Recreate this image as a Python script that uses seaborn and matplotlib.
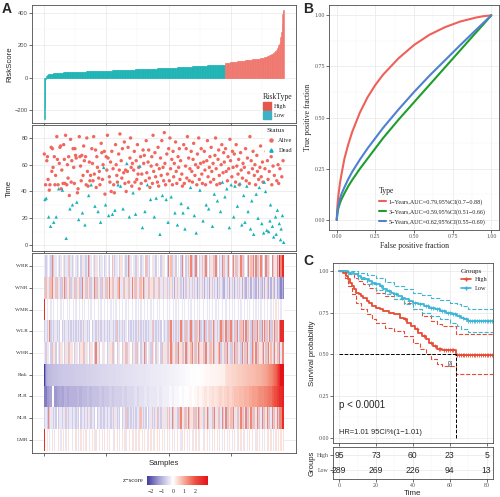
import numpy as np
import pandas as pd
import matplotlib
matplotlib.use("Agg")
import matplotlib.pyplot as plt
import seaborn as sns
from matplotlib.colors import LinearSegmentedColormap
from matplotlib.lines import Line2D
from matplotlib.patches import Patch

# ---------------- data: panel A ----------------
# sorted risk score per sample (low group then high group)
risk_low = [
    -255, -182, -8, 12, 17, 20, 22,
    23, 24, 25, 25, 26, 27, 27, 28, 28, 29, 29, 30, 30, 30, 31, 31, 32, 32, 32, 33, 33,
    33, 33, 33, 34, 34, 34, 34, 34, 34, 35, 35, 35, 35, 35, 35, 36, 36, 36, 36, 36, 36,
    37, 37, 37, 37, 37, 37, 38, 38, 38, 38, 38, 38, 39, 39, 39, 39, 39, 39, 40, 40, 40,
    40, 40, 40, 41, 41, 41, 41, 41, 41, 42, 42, 42, 42, 42, 42, 43, 43, 43, 43, 43, 43,
    44, 44, 44, 44, 44, 44, 45, 45, 45, 45, 45, 45, 46, 46, 46, 46, 46, 46,
    47, 47, 47, 47, 47, 47, 48, 48, 48, 48, 48, 48, 49, 49, 49, 49, 49, 49,
    50, 50, 50, 50, 50, 50, 51, 51, 51, 51, 51, 51, 52, 52, 52, 52, 52, 52,
    53, 53, 53, 53, 53, 53, 54, 54, 54, 54, 54, 54, 55, 55, 55, 55, 55, 55,
    56, 56, 56, 56, 56, 56, 57, 57, 57, 57, 57, 57, 58, 58, 58, 58, 58, 58,
    59, 59, 59, 59, 59, 59, 60, 60, 60, 60, 60, 60, 60, 60, 60, 60,
    61, 61, 61, 61, 62, 62, 62, 62, 63, 63, 63, 63, 64, 64, 64, 64, 65, 65, 65, 65, 66, 66, 66, 66,
    67, 67, 67, 67, 68, 68, 68, 68, 69, 69, 69, 69, 70, 70, 70, 70, 71, 71, 71, 71, 72, 72, 72, 72,
    73, 73, 73, 73, 74, 74, 74, 74, 75, 75, 75, 75, 76, 76, 76, 76, 77, 77, 77, 77, 78, 78, 78, 78,
    79, 79, 79, 79, 80, 80, 80, 80, 81, 81, 81, 81, 82, 82, 82, 82, 82, 82, 82, 82,
]
risk_high = [
    92, 92, 93, 93, 94, 94, 95, 95, 96, 96, 97, 97, 98, 98, 99, 99, 100, 100, 101, 101,
    102, 102, 103, 103, 104, 104, 105, 105, 106, 106, 107, 107, 108, 108, 109,
    109, 110, 110, 111, 111, 112, 112, 113, 113, 114, 114, 115, 115, 116, 116, 117, 117, 118, 118, 119, 119,
    120, 121, 122, 123, 124, 125, 126, 127, 128, 129, 130, 132, 134, 136, 138, 140,
    142, 144, 146, 148, 150, 153, 156, 159, 162, 166, 170,
    175, 182, 190, 200, 212, 228, 252, 280, 330, 395, 410, 418,
]

# survival time per sample and status (A = alive, D = dead), same order
surv_time = [
    [68, 34, 45, 35, 63, 66, 49, 21, 41, 45, 14, 73, 55, 72, 58, 17, 66, 45, 52, 21, 81, 64, 45, 42, 61, 73, 74, 42, 56, 41, 46, 75],
    [64, 46, 82, 5, 45, 60, 50, 66, 37, 27, 79, 47, 63, 30, 72, 58, 46, 72, 67, 65, 32, 39, 42, 19, 81, 66, 59, 48, 67, 24, 52, 74],
    [63, 15, 66, 45, 80, 55, 44, 37, 62, 48, 52, 45, 72, 61, 48, 81, 53, 29, 71, 43, 66, 58, 25, 50, 55, 45, 17, 76, 69, 49, 60, 58],
    [70, 38, 30, 66, 56, 82, 65, 22, 51, 47, 62, 40, 70, 23, 57, 45, 39, 26, 75, 60, 52, 47, 45, 68, 56, 83, 44, 63, 50, 72, 27, 54],
    [77, 46, 56, 40, 61, 55, 73, 47, 21, 65, 80, 58, 44, 61, 39, 56, 70, 47, 23, 63, 49, 75, 53, 58, 42, 59, 66, 46, 53, 13, 71, 61],
    [67, 25, 48, 78, 54, 45, 62, 71, 50, 43, 34, 59, 66, 46, 82, 55, 21, 69, 51, 35, 60, 47, 73, 44, 57, 8, 65, 52, 78, 37, 58, 48],
    [84, 61, 45, 34, 68, 53, 17, 72, 48, 80, 57, 36, 64, 45, 70, 51, 61, 24, 77, 55, 46, 15, 66, 58, 72, 49, 63, 31, 53, 44, 24, 75],
    [46, 12, 59, 72, 50, 81, 28, 65, 48, 57, 43, 70, 55, 47, 64, 76, 22, 52, 60, 9, 45, 68, 58, 80, 49, 41, 61, 72, 53, 46, 18, 62],
    [70, 56, 45, 30, 63, 78, 51, 27, 58, 66, 47, 73, 55, 14, 61, 49, 38, 67, 80, 57, 45, 33, 64, 71, 52, 46, 25, 60, 75, 47, 54, 69],
    [62, 36, 72, 55, 42, 48, 66, 57, 13, 79, 63, 45, 51, 70, 58, 21, 68, 44, 47, 75, 59, 29, 53, 64, 45, 46, 69, 56, 15, 50, 61, 37],
    [58, 17, 72, 48, 44, 65, 25, 54, 46, 81, 12, 63, 33, 57, 70, 8, 52, 60, 45, 38, 67, 55, 20, 49, 43, 58, 74, 51, 16, 62, 47, 9],
    [47, 57, 40, 70, 11, 63, 49, 10, 55, 18, 30, 66, 45, 14, 59, 6, 52, 72, 21, 8, 48, 26, 60, 46, 16, 57, 4, 12, 51, 22, 63, 2],
]
surv_status = [
    "ADADAAADAADAAAADAAADAAADAAAAADAA",
    "AAADAAAAADAAADAAAAAADAADAAAAADAA",
    "ADAAAAADAAADAAAAADAAAADAAADAAAAD",
    "AADAAAADAAAAADAAADAAAADAAADAAADA",
    "AAAADAAADAAAAADAAADAAAAAADAAADAA",
    "ADAAADAAAADAAAAADAADAAAAADAAADAA",
    "AAADAADAAAADAAAAADAAADAAAAADAADA",
    "ADAAAADAAADAAAAADAADAAAAADAAAADA",
    "AAADAAADAAAAADAADAAAADAAAADAADAA",
    "ADAADAAADAADAAADADAAADAAADAADAAD",
    "ADAADADAAADADAADAAADAADADAAADAAD",
    "DADADAADADDAADADAADDADAADADDADAD",
]

# heatmap rows: each character is one stripe of 2 samples, digit -> z level
heat_rows = ["WRR", "WNR", "WMR", "WLR", "WHR", "Risk", "PLR", "NLR", "LMR"]
z_levels = [-2.3, -1.5, -1.0, -0.65, -0.3, 0.0, 0.35, 0.8, 1.4, 2.6]
heat_codes = {
    "WRR": ("434543834454345634437434" "543453464348345436453445" "345435743445364543483454" "436453445734354643545364"
            "453847346354538453474834" "384534743845364738453483" "743845384736483745384738" "483748354837458364839899"),
    "WNR": ("374637846374637483647364" "736473846374736483746374" "637486374637846374637486" "374637483647364736437463"
            "463436342634634263463436" "342634362436243634263432" "243624362436342632436243" "324263242632426324232121"),
    "WMR": ("954554545545545455454554" "545545454554545545545455" "454554545455454554545545" "545454554545545455454554"
            "554545545454554545545455" "454545545545454554545545" "545545454554545545454554" "545454554545545456545455"),
    "WLR": ("343483434434353434434343" "434343634434353443436344" "343434434374343434534343" "434363434343443743434354"
            "343738434363483437343834" "373483438343734836343873" "483738347384373848374383" "738473848374837483748999"),
    "WHR": ("436453746354364536473645" "364536473645364538463546" "453646374536453647364536" "637453648354637453645374"
            "463748364738463748364784" "374836473846374836478364" "738463748374638473846387" "483746384738476384738488"),
    "NLR": ("343834434353443463434434" "434353443434634435344343" "343443634434353443734343" "434637434353443634734346"
            "463474836437384637483647" "374836437483647384637483" "483747384637483748374837" "748374837483748374838899"),
    "LMR": ("956545654556545654565545" "565456545655456546554565" "654565546565456564556546" "565465656546565465656565"
            "456545654565546565456546" "565465546565456545656545" "654565456546565465456565" "546565456546565456565656"),
}
# PLR z-score, one value per 4 samples
plr_z = [
    -1.6, -1.3, -1.2, 0.0, -1.3, -1.2, -1.1, -1.2, -1.0, -1.1, -1.0, -1.0,
    -1.0, -0.9, -1.0, -0.9, -0.9, -0.8, -0.9, -0.8, -0.8, -0.8, -0.7, -0.8,
    -0.7, -0.7, -0.6, -0.7, -0.6, -0.6, -0.6, -0.5, -0.6, -0.5, -0.5, -0.5,
    -0.4, -0.5, -0.4, -0.4, -0.3, -0.4, -0.3, -0.3, -0.3, -0.2, -0.3, -0.2,
    -0.2, -0.2, -0.1, -0.2, -0.1, -0.1, 0.0, -0.1, 0.0, 0.0, 0.1, 0.0,
    0.1, 0.2, 0.1, 0.2, 0.3, 0.2, 0.3, 0.4, 0.3, 0.4, 0.5, 0.4,
    0.5, 0.6, 0.5, 0.6, 0.7, 0.7, 0.8, 0.8, 0.9, 0.9, 1.0, 1.1,
    1.1, 1.2, 1.3, 1.3, 1.4, 1.5, 1.6, 1.8, 2.0, 2.3, 2.6, 2.8,
]

# ---------------- data: panel B (ROC) ----------------
roc_fpr = [0, 0.005, 0.01, 0.02, 0.03, 0.05, 0.075, 0.1, 0.15, 0.2, 0.25, 0.3, 0.4, 0.5, 0.6, 0.7, 0.8, 0.9, 0.95, 1.0]
tpr_1y = [0, 0.075, 0.115, 0.175, 0.22, 0.30, 0.37, 0.43, 0.525, 0.60, 0.66, 0.71, 0.79, 0.855, 0.905, 0.942, 0.970, 0.989, 0.996, 1.0]
tpr_3y = [0, 0.035, 0.055, 0.08, 0.10, 0.13, 0.165, 0.195, 0.25, 0.30, 0.35, 0.40, 0.49, 0.575, 0.66, 0.745, 0.83, 0.915, 0.957, 1.0]
tpr_5y = [0, 0.045, 0.07, 0.10, 0.125, 0.16, 0.20, 0.235, 0.295, 0.35, 0.40, 0.45, 0.54, 0.625, 0.705, 0.78, 0.855, 0.928, 0.964, 1.0]
roc_labels = ["1\u2212Years,AUC=0.79,95%CI(0.7\u22120.88)",
              "3\u2212Years,AUC=0.59,95%CI(0.51\u22120.66)",
              "5\u2212Years,AUC=0.62,95%CI(0.55\u22120.69)"]

# ---------------- data: panel C (KM) ----------------
km_high_t = [0, 2, 4, 5, 6, 7, 8, 9, 11, 12, 13, 15, 16, 18, 20, 22, 24, 27, 30, 33,
             35, 37, 39, 41, 43, 45, 47, 49, 51, 53, 56, 63.3, 83.3]
km_high_s = [1.0, 0.99, 0.97, 0.95, 0.93, 0.91, 0.89, 0.87, 0.86, 0.85, 0.84, 0.82, 0.81, 0.79, 0.78, 0.77, 0.76, 0.75, 0.74, 0.72,
             0.71, 0.69, 0.67, 0.65, 0.63, 0.61, 0.59, 0.57, 0.55, 0.535, 0.525, 0.495, 0.495]
km_low_t = [0, 3, 5, 8, 10, 12, 14, 16, 18, 20, 22, 24, 26, 28, 30, 32, 34, 36, 38, 40,
            43, 46, 49, 52, 55, 58, 61, 64, 66, 68, 70, 83.3]
km_low_s = [1.0, 0.997, 0.99, 0.98, 0.97, 0.96, 0.95, 0.94, 0.93, 0.92, 0.91, 0.89, 0.88, 0.87, 0.86, 0.85, 0.84, 0.83, 0.82, 0.81,
            0.80, 0.79, 0.78, 0.77, 0.76, 0.75, 0.74, 0.73, 0.72, 0.71, 0.70, 0.70]
ci_high_up_t = [0, 4, 6, 8, 10, 13, 16, 20, 25, 30, 35, 40, 45, 50, 53, 56, 63.3, 83.3]
ci_high_up_s = [1.0, 0.995, 0.98, 0.96, 0.94, 0.92, 0.90, 0.87, 0.85, 0.83, 0.81, 0.77, 0.73, 0.70, 0.68, 0.67, 0.625, 0.625]
ci_high_lo_t = [0, 3, 5, 7, 9, 12, 15, 18, 20, 25, 30, 35, 40, 44, 47, 50, 53, 56, 63.3, 83.3]
ci_high_lo_s = [1.0, 0.96, 0.91, 0.86, 0.81, 0.77, 0.74, 0.71, 0.69, 0.66, 0.64, 0.61, 0.57, 0.53, 0.50, 0.47, 0.44, 0.43, 0.385, 0.385]
ci_low_up_t = [0, 10, 15, 20, 25, 30, 35, 40, 45, 50, 55, 60, 64, 66, 70, 83.3]
ci_low_up_s = [1.0, 0.99, 0.975, 0.955, 0.935, 0.91, 0.89, 0.87, 0.855, 0.84, 0.825, 0.81, 0.80, 0.79, 0.77, 0.77]
ci_low_lo_t = [0, 5, 10, 15, 20, 25, 30, 35, 40, 45, 50, 55, 60, 64, 66, 70, 83.3]
ci_low_lo_s = [1.0, 0.98, 0.95, 0.92, 0.885, 0.86, 0.83, 0.80, 0.77, 0.75, 0.73, 0.71, 0.69, 0.67, 0.655, 0.635, 0.635]
cens_high = [36, 42, 46, 50, 52, 54, 55, 57, 58, 59, 60, 61, 62, 64, 65, 66, 67, 68, 69, 70,
             71, 72, 73, 74, 75, 76, 77, 78, 79, 80, 81, 82, 83]
cens_low = [18, 23, 27, 31, 34, 38, 41, 44, 47, 48, 50, 51, 53, 54, 56, 57, 59, 60, 62, 63,
            65, 67, 69, 70, 71, 72, 73, 74, 75, 76, 77, 78, 79, 80, 81, 82, 83]
median_time = 63.5
table_times = [0, 20, 40, 60, 80]
table_high = [95, 73, 60, 23, 5]
table_low = [289, 269, 226, 94, 13]

# ---------------- styling ----------------
sns.set_theme(style="whitegrid")
plt.rcParams["font.family"] = ["Liberation Sans", "DejaVu Sans"]
SERIF = ["Liberation Serif", "DejaVu Serif"]
GRID = "#EBEBEB"
EDGE = "#4D4D4D"
c_low, c_high = "#1DB3B5", "#EF776E"
c_alive, c_dead = "#F2665E", "#16B2B9"
roc_colors = ["#EE6159", "#1E9E2A", "#4F80D1"]
km_red, km_blue = "#E64B35", "#3DB5D4"


def frame(ax, xmaj, xmin, ymaj, ymin, lab_size=4.2, serif=False, xlabels=True):
    ax.set_facecolor("white")
    ax.set_xticks(xmaj)
    ax.set_xticks(xmin, minor=True)
    ax.set_yticks(ymaj)
    ax.set_yticks(ymin, minor=True)
    ax.grid(which="major", color=GRID, lw=0.6)
    ax.grid(which="minor", color="#F3F3F3", lw=0.35)
    ax.set_axisbelow(True)
    ax.tick_params(which="major", bottom=True, left=True, length=2, width=0.5, color="#333333",
                   labelsize=lab_size, pad=1, labelcolor="#4D4D4D")
    ax.tick_params(which="minor", length=0)
    if not xlabels:
        ax.set_xticklabels([])
    for s in ax.spines.values():
        s.set_visible(True)
        s.set_color(EDGE)
        s.set_linewidth(0.6)
    if serif:
        for lbl in ax.get_xticklabels() + ax.get_yticklabels():
            lbl.set_fontfamily(SERIF)


fig = plt.figure(figsize=(5.0, 4.97), dpi=100)

# ---- A1: risk score bars ----
ax1 = fig.add_axes([0.064, 0.7525, 0.528, 0.2374])
risk = risk_low + risk_high
n = len(risk)
df_risk = pd.DataFrame({"sample": np.arange(1, n + 1), "score": risk,
                        "RiskType": ["Low"] * len(risk_low) + ["High"] * len(risk_high)})
sns.barplot(data=df_risk, x="sample", y="score", hue="RiskType", palette={"High": c_high, "Low": c_low},
            native_scale=True, width=1, dodge=False, saturation=1, errorbar=None, legend=False,
            linewidth=0, ax=ax1)
for p in ax1.patches:
    p.set_edgecolor(p.get_facecolor())
    p.set_linewidth(0.4)
xlim_a = (-18.7, 403.7)
frame(ax1, [0, 100, 200, 300], [50, 150, 250, 350], [-200, 0, 200, 400], [-100, 100, 300], xlabels=False)
ax1.set_xlim(*xlim_a)
ax1.set_ylim(-277, 449)
ax1.set_xlabel("")
ax1.set_ylabel("RiskScore", fontsize=5.6, labelpad=2)
ax1.yaxis.set_label_coords(-0.072, 0.5)
ax1.legend(handles=[Patch(facecolor="#E4574A", edgecolor="#E4574A"),
                    Patch(facecolor="#3DB2C6", edgecolor="#3DB2C6")],
           labels=["High", "Low"], title="RiskType", loc="lower right", bbox_to_anchor=(1.0, 0.0),
           frameon=True, facecolor="white", edgecolor="none", framealpha=1,
           prop={"family": SERIF, "size": 4.6}, title_fontproperties={"family": SERIF, "size": 5.6},
           handlelength=1.3, handleheight=1.6, handletextpad=0.5, borderpad=0.3, labelspacing=0.1,
           borderaxespad=0.3, alignment="left")

# ---- A2: survival time scatter ----
ax2 = fig.add_axes([0.064, 0.495, 0.528, 0.2535])
t_all = [t for row in surv_time for t in row]
st_all = "".join(surv_status)
df_sc = pd.DataFrame({"sample": np.arange(1, len(t_all) + 1), "time": t_all,
                      "Status": ["Alive" if c == "A" else "Dead" for c in st_all]})
sns.scatterplot(data=df_sc, x="sample", y="time", hue="Status", style="Status",
                markers={"Alive": "o", "Dead": "^"}, palette={"Alive": c_alive, "Dead": c_dead},
                s=6, linewidth=0, legend=False, ax=ax2)
frame(ax2, [0, 100, 200, 300], [50, 150, 250, 350], [0, 20, 40, 60, 80], [10, 30, 50, 70], xlabels=False)
ax2.set_xlim(*xlim_a)
ax2.set_ylim(-4.5, 89.7)
ax2.set_xlabel("")
ax2.set_ylabel("Time", fontsize=5.6)
ax2.yaxis.set_label_coords(-0.072, 0.5)
ax2.legend(handles=[Line2D([], [], ls="", marker="o", ms=2.2, color=c_alive),
                    Line2D([], [], ls="", marker="^", ms=2.4, color=c_dead)],
           labels=["Alive", "Dead"], title="Status", loc="upper right", bbox_to_anchor=(1.0, 1.0),
           frameon=True, facecolor="white", edgecolor="none", framealpha=1,
           prop={"family": SERIF, "size": 4.6}, title_fontproperties={"family": SERIF, "size": 5.4},
           handlelength=1.2, handletextpad=0.6, borderpad=0.3, labelspacing=0.7, borderaxespad=0.2,
           alignment="left")

# ---- A3: heatmap ----
ax3 = fig.add_axes([0.064, 0.0885, 0.528, 0.4024])
cax = fig.add_axes([0.294, 0.024, 0.122, 0.019])
risk_arr = np.array(risk, dtype=float)
risk_z = np.clip((risk_arr - risk_arr.mean()) / risk_arr.std(), -2.3, 3.1)


def fit_len(row):
    row = np.asarray(row, dtype=float)
    if len(row) < n:
        row = np.pad(row, (0, n - len(row)), mode="edge")
    return row[:n]


mat = []
for name in heat_rows:
    if name == "Risk":
        row = risk_z
    elif name == "PLR":
        row = np.repeat(plr_z, 4)
    else:
        row = np.repeat([z_levels[int(c)] for c in heat_codes[name]], 2)
    mat.append(fit_len(row))
mat = np.vstack(mat)
cmap = LinearSegmentedColormap.from_list(
    "zs", [(0.0, "#3F3C9E"), (1.1 / 5.4, "#A9A2D4"), (2.3 / 5.4, "#FFFFFF"),
           (3.3 / 5.4, "#F6A996"), (4.3 / 5.4, "#EC4D3E"), (1.0, "#E5121A")])
sns.heatmap(mat, ax=ax3, cmap=cmap, vmin=-2.3, vmax=3.1, cbar_ax=cax,
            cbar_kws={"orientation": "horizontal", "ticks": [-2, -1, 0, 1, 2]},
            xticklabels=False, yticklabels=heat_rows, rasterized=True)
ax3.set_facecolor("white")
ax3.set_xlim(-19.2, 403.2)
ax3.set_ylim(9.1, -0.1)
ax3.set_xticks([-0.5, 99.5, 199.5, 299.5])
ax3.set_xticklabels([])
ax3.grid(axis="y", color=GRID, lw=0.6)
ax3.grid(axis="x", visible=False)
ax3.set_axisbelow(True)
ax3.tick_params(bottom=True, left=True, length=2, width=0.5, color="#333333", labelsize=3.8, pad=1,
                labelcolor="#333333")
for lbl in ax3.get_yticklabels():
    lbl.set_fontfamily(SERIF)
    lbl.set_rotation(0)
for s in ax3.spines.values():
    s.set_visible(True)
    s.set_color(EDGE)
    s.set_linewidth(0.6)
ax3.set_xlabel("Samples", fontsize=5.6, labelpad=2)
ax3.set_ylabel("")
cb = ax3.collections[0].colorbar
cb.outline.set_visible(False)
cax.tick_params(labelsize=4.2, length=2, width=0.4, color="white", pad=1, bottom=True)
for lbl in cax.get_xticklabels():
    lbl.set_fontfamily(SERIF)
fig.text(0.288, 0.0335, "z\u2212score", ha="right", va="center", fontsize=4.8, family=SERIF)

# ---- B: ROC ----
axB = fig.add_axes([0.658, 0.537, 0.34, 0.4527])
df_roc = pd.concat([pd.DataFrame({"fpr": roc_fpr, "tpr": tp, "Type": lab})
                    for tp, lab in zip([tpr_1y, tpr_3y, tpr_5y], roc_labels)])
sns.lineplot(data=df_roc, x="fpr", y="tpr", hue="Type", palette=dict(zip(roc_labels, roc_colors)),
             sort=False, estimator=None, linewidth=1.5, legend=False, ax=axB)
frame(axB, [0, 0.25, 0.5, 0.75, 1.0], [0.125, 0.375, 0.625, 0.875],
      [0, 0.25, 0.5, 0.75, 1.0], [0.125, 0.375, 0.625, 0.875], serif=True)
axB.set_xticklabels(["0.00", "0.25", "0.50", "0.75", "1.00"], fontfamily=SERIF)
axB.set_yticklabels(["0.00", "0.25", "0.50", "0.75", "1.00"], fontfamily=SERIF)
axB.set_xlim(-0.05, 1.05)
axB.set_ylim(-0.05, 1.05)
axB.set_xlabel("False positive fraction", fontsize=5.6, family=SERIF, labelpad=2)
axB.set_ylabel("True positive fraction", fontsize=5.6, family=SERIF, labelpad=2)
axB.legend(handles=[Line2D([], [], color=c, lw=1.5) for c in roc_colors], labels=roc_labels,
           title="Type", loc="lower left", bbox_to_anchor=(0.27, 0.005), frameon=False,
           prop={"family": SERIF, "size": 4.4}, title_fontproperties={"family": SERIF, "size": 5.6},
           handlelength=1.1, handletextpad=0.4, labelspacing=0.7, borderpad=0.2, alignment="left")

# ---- C: Kaplan-Meier ----
axC = fig.add_axes([0.666, 0.1087, 0.32, 0.3622])
xlim_c = (-3.3, 83.5)
for t, s_, col, ls, lw in [
    (ci_high_up_t, ci_high_up_s, km_red, "--", 0.8), (ci_high_lo_t, ci_high_lo_s, km_red, "--", 0.8),
    (ci_low_up_t, ci_low_up_s, km_blue, "--", 0.8), (ci_low_lo_t, ci_low_lo_s, km_blue, "--", 0.8),
    (km_high_t, km_high_s, km_red, "-", 1.3), (km_low_t, km_low_s, km_blue, "-", 1.3)]:
    sns.lineplot(x=t, y=s_, color=col, linestyle=ls, linewidth=lw, drawstyle="steps-post",
                 estimator=None, ax=axC)


def step_at(times, surv, q):
    idx = np.searchsorted(times, q, side="right") - 1
    return np.asarray(surv)[idx]


axC.plot(cens_high, step_at(km_high_t, km_high_s, cens_high), ls="", marker="+", ms=3, mew=0.6, color=km_red)
axC.plot(cens_low, step_at(km_low_t, km_low_s, cens_low), ls="", marker="+", ms=3, mew=0.6, color=km_blue)
axC.plot([0, median_time], [0.5, 0.5], ls="--", color="black", lw=0.7)
axC.plot([median_time, median_time], [0, 0.5], ls="--", color="black", lw=0.7)
axC.text(median_time - 1.2, 0.45, "63", rotation=90, ha="right", va="center", fontsize=4.6, color="#333333")
axC.text(0, 0.2, "p < 0.0001", fontsize=7, ha="left", va="center")
axC.text(0, 0.035, "HR=1.01 95CI%(1\u22121.01)", fontsize=5.4, ha="left", va="center")
frame(axC, [0, 20, 40, 60, 80], [10, 30, 50, 70], [0, 0.25, 0.5, 0.75, 1.0], [0.125, 0.375, 0.625, 0.875],
      xlabels=False)
axC.set_yticklabels(["0.00", "0.25", "0.50", "0.75", "1.00"], fontfamily=SERIF)
axC.set_xlim(*xlim_c)
axC.set_ylim(-0.03, 1.048)
axC.set_xlabel("")
axC.set_ylabel("Survival probability", fontsize=5.6, labelpad=2)
axC.legend(handles=[Line2D([], [], color=km_red, lw=1.2, marker="+", ms=3),
                    Line2D([], [], color=km_blue, lw=1.2, marker="+", ms=3)],
           labels=["High", "Low"], title="Groups", loc="upper right", bbox_to_anchor=(1.0, 1.0),
           frameon=False, prop={"family": SERIF, "size": 4.6},
           title_fontproperties={"family": SERIF, "size": 5.2}, handlelength=1.6, handletextpad=0.5,
           labelspacing=0.5, alignment="left")

# ---- C: risk table ----
axT = fig.add_axes([0.666, 0.0362, 0.32, 0.0644])
for x, hv, lv in zip(table_times, table_high, table_low):
    axT.text(x, 24, str(hv), ha="center", va="center", fontsize=6.2)
    axT.text(x, 9, str(lv), ha="center", va="center", fontsize=6.2)
frame(axT, [0, 20, 40, 60, 80], [10, 30, 50, 70], [9, 24], [], serif=True)
axT.set_xticklabels(["0", "20", "40", "60", "80"], fontfamily=SERIF)
axT.set_yticklabels(["Low", "High"], fontfamily=SERIF)
axT.set_xlim(*xlim_c)
axT.set_ylim(0, 32)
axT.set_xlabel("Time", fontsize=5.8, labelpad=1)
axT.set_ylabel("Groups", fontsize=5.6, labelpad=1)

# ---- panel letters ----
fig.text(0.004, 0.996, "A", fontsize=10, fontweight="bold", ha="left", va="top")
fig.text(0.606, 0.996, "B", fontsize=10, fontweight="bold", ha="left", va="top")
fig.text(0.606, 0.488, "C", fontsize=10, fontweight="bold", ha="left", va="top")

fig.savefig("out.png", dpi=100)
